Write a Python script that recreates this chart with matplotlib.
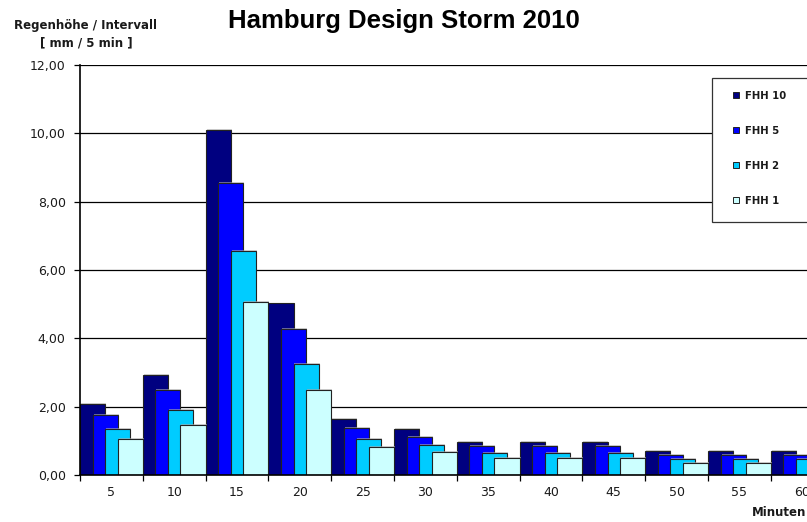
import numpy as np
import matplotlib
matplotlib.use("Agg")
import matplotlib.pyplot as plt
from matplotlib.patches import Rectangle, Patch
import matplotlib.patheffects as pe

# Rainfall depth per 5-minute interval for the Hamburg design storms
minutes = [5, 10, 15, 20, 25, 30, 35, 40, 45, 50, 55, 60]
fhh10 = [2.08, 2.92, 10.09, 5.02, 1.63, 1.34, 0.98, 0.98, 0.98, 0.70, 0.70, 0.70]
fhh5 = [1.77, 2.50, 8.56, 4.26, 1.37, 1.11, 0.84, 0.84, 0.84, 0.60, 0.60, 0.60]
fhh2 = [1.34, 1.90, 6.57, 3.25, 1.06, 0.87, 0.64, 0.64, 0.64, 0.46, 0.46, 0.46]
fhh1 = [1.04, 1.47, 5.05, 2.50, 0.81, 0.66, 0.49, 0.49, 0.49, 0.35, 0.35, 0.35]
series_names = ["FHH 10", "FHH 5", "FHH 2", "FHH 1"]
y_ticks = [0, 2, 4, 6, 8, 10, 12]

series = [fhh10, fhh5, fhh2, fhh1]
colors = ["#000080", "#0000FF", "#00CCFF", "#CCFFFF"]
txt = "#1a1a1a"

W, H = 807, 522
fig = plt.figure(figsize=(W / 100, H / 100), dpi=100)
fig.patch.set_facecolor("white")

# plot area runs past the right edge of the figure
ax = fig.add_axes([80 / W, 47 / H, 753.6 / W, 410 / H])

x = np.arange(len(minutes))
bar_w = 0.4
step = 0.2
shadow = [pe.SimplePatchShadow(offset=(0.7, 0.7), shadow_rgbFace="0.7", alpha=0.6),
          pe.Normal()]
for i, (vals, col) in enumerate(zip(series, colors)):
    ax.bar(x - 0.5 + bar_w / 2 + i * step, vals, width=bar_w, color=col,
           edgecolor="#222222", linewidth=0.8, zorder=2 + i,
           path_effects=shadow)

ax.set_xlim(-0.5, len(minutes) - 0.5)
ax.set_ylim(0, 12)
ax.set_axisbelow(True)
ax.yaxis.grid(True, color="black", linewidth=0.9)
ax.spines["top"].set_visible(False)
ax.spines["right"].set_visible(False)
for s in ("left", "bottom"):
    ax.spines[s].set_linewidth(1.2)
    ax.spines[s].set_zorder(10)

ax.set_yticks(y_ticks)
ax.set_yticklabels([f"{v:.2f}".replace(".", ",") for v in y_ticks])
ax.tick_params(axis="y", direction="out", length=4.3, width=0.9, pad=6,
               labelsize=9, labelcolor=txt)

ax.set_xticks(np.arange(-0.5, len(minutes), 1))
ax.set_xticklabels([])
ax.set_xticks(x, minor=True)
ax.set_xticklabels([str(m) for m in minutes], minor=True)
ax.tick_params(axis="x", which="major", direction="out", length=4, width=0.9)
ax.tick_params(axis="x", which="minor", length=0, pad=8, labelsize=9,
               labelcolor=txt)

fig.text(404 / W, 1 - 21 / H, "Hamburg Design Storm 2010", ha="center",
         va="center", fontsize=18.5, fontweight="bold",
         family="Liberation Sans", color="black")
fig.text(86 / W, 1 - 26 / H, "Regenhöhe / Intervall", ha="center",
         va="center", fontsize=8.5, fontweight="bold", color=txt)
fig.text(86 / W, 1 - 43 / H, "[ mm / 5 min ]", ha="center",
         va="center", fontsize=8.5, fontweight="bold", color=txt)
fig.text(752 / W, 1 - 513 / H, "Minuten", ha="left", va="center",
         fontsize=8.5, fontweight="bold", color=txt)

# legend box
fig.patches.append(Rectangle((712 / W, 1 - 222 / H), 130 / W, 144 / H,
                             transform=fig.transFigure, facecolor="white",
                             edgecolor="#333333", linewidth=0.9, zorder=20))
handles = [Patch(facecolor=c, edgecolor="#222222", linewidth=0.7) for c in colors]
leg = fig.legend(handles, series_names, loc="upper left",
                 bbox_to_anchor=(733 / W, 1 - 91 / H), frameon=False,
                 borderpad=0, borderaxespad=0, handlelength=0.55,
                 handleheight=0.55, handletextpad=0.6, labelspacing=2.45,
                 prop={"size": 7.3, "weight": "bold"})
leg.set_zorder(21)
for t in leg.get_texts():
    t.set_color(txt)

fig.savefig("out.png", dpi=100)
